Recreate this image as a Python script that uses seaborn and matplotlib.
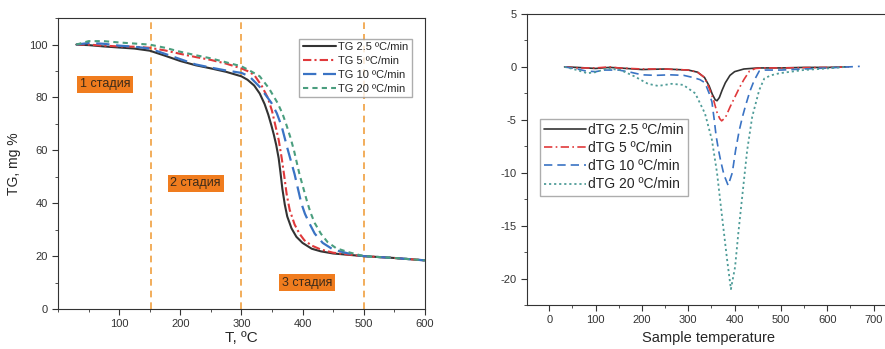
import seaborn as sns
import matplotlib.pyplot as plt
from matplotlib.ticker import MultipleLocator

# --- TG curves (left panel) ---
tg25_x = [30, 50, 75, 100, 125, 150, 175, 200, 225, 250, 275, 300, 310, 321, 330, 338, 344, 349, 353, 357,
          361, 364, 367, 371, 375, 382, 390, 400, 415, 430, 450, 475, 500, 550, 600]
tg25_y = [100, 99.8, 99.3, 98.9, 98.5, 97.7, 95.8, 93.8, 92.2, 91, 89.7, 88, 86.7, 84.5, 81.5, 77.5, 73.5,
          69.5, 66, 62, 57, 51.5, 45.5, 39.5, 35, 30.5, 27.3, 25, 22.8, 21.8, 21, 20.5, 20, 19.3, 18.4]

tg5_x = [30, 50, 75, 100, 125, 150, 175, 200, 225, 250, 275, 300, 310, 321, 333, 343, 350, 356, 361, 366,
         370, 374, 379, 387, 395, 403, 415, 430, 450, 475, 500, 550, 600]
tg5_y = [100, 100, 99.6, 99.3, 99.2, 98.8, 97.8, 96.5, 95.3, 94.2, 92.8, 91, 90, 88.5, 84.5, 80, 75, 69, 64,
         57, 50.5, 43.5, 37.5, 32, 28.5, 26, 24, 22.5, 21.3, 20.6, 20, 19.3, 18.4]

tg10_x = [30, 50, 75, 100, 125, 150, 175, 200, 225, 250, 275, 300, 313, 330, 349, 358, 366, 375, 381, 387,
          393, 398, 404, 411, 420, 433, 450, 475, 500, 550, 600]
tg10_y = [100, 100.6, 100.3, 99.6, 99.2, 98.5, 96.5, 94.5, 92.5, 91.3, 90.2, 89.3, 88, 84, 78, 74, 69, 61,
          56, 51, 45, 40, 36, 32.5, 28.5, 25, 22.5, 21, 20, 19.3, 18.4]

tg20_x = [30, 50, 75, 100, 125, 150, 175, 200, 225, 250, 275, 300, 315, 330, 345, 359, 367, 374, 380, 386,
          391, 395, 401, 407, 413, 420, 430, 441, 455, 475, 500, 550, 600]
tg20_y = [100, 101.3, 101.3, 100.8, 100.4, 100, 98.8, 97.3, 96, 94.8, 93.3, 91.8, 90, 88, 83.5, 78, 74,
          69.4, 65, 60, 55, 51, 46, 41, 36.5, 32.5, 28.5, 25.3, 23, 21.5, 20, 19.3, 18.4]

stage_lines = [152, 300, 500]
stage_labels = ["1 стадия", "2 стадия", "3 стадия"]
stage_pos = [(77, 85), (225, 47.5), (408, 10)]

# --- dTG curves (right panel) ---
d25_x = [33, 60, 100, 130, 150, 200, 250, 300, 320, 335, 345, 352, 358, 362, 367, 373, 380, 390, 400, 420,
         450, 500, 550, 600, 640]
d25_y = [0, -0.05, -0.15, -0.05, -0.1, -0.25, -0.2, -0.3, -0.5, -1.0, -1.8, -2.6, -3.1, -3.2, -2.9, -2.2,
         -1.5, -0.8, -0.45, -0.2, -0.1, -0.1, -0.05, -0.05, 0]

d5_x = [33, 60, 100, 130, 150, 200, 250, 300, 320, 335, 345, 355, 362, 368, 372, 380, 390, 400, 410, 420,
        432, 445, 460, 500, 600, 650]
d5_y = [0, -0.1, -0.1, 0, -0.1, -0.2, -0.2, -0.3, -0.5, -1.0, -2.0, -3.2, -4.3, -4.9, -5.1, -4.8, -3.8,
        -2.9, -2.0, -1.2, -0.4, -0.15, -0.1, -0.1, -0.05, 0]

d10_x = [33, 60, 80, 100, 120, 150, 175, 200, 230, 260, 290, 310, 325, 336, 345, 351, 356, 360, 365, 370,
         377, 386, 395, 402, 410, 417, 424, 433, 442, 453, 465, 500, 550, 600, 670]
d10_y = [0, -0.2, -0.4, -0.45, -0.3, -0.3, -0.5, -0.75, -0.8, -0.75, -0.8, -1.0, -1.2, -1.5, -2.5, -3.3,
         -5.0, -6.5, -7.8, -8.9, -10.2, -11.2, -10.0, -7.9, -6.0, -4.7, -3.6, -2.3, -1.3, -0.4, -0.3, -0.3,
         -0.2, -0.1, 0.05]

d20_x = [33, 60, 82, 100, 125, 154, 184, 213, 235, 264, 289, 315, 336, 351, 362, 373, 384, 392, 401, 408,
         417, 427, 438, 453, 464, 478, 497, 548, 599, 640]
d20_y = [0, -0.3, -0.6, -0.5, -0.15, -0.3, -0.9, -1.6, -1.8, -1.6, -1.7, -2.5, -4.4, -6.9, -10.0, -14.2,
         -18.3, -21.0, -18.9, -15.7, -12.0, -7.9, -4.7, -2.2, -1.1, -0.8, -0.6, -0.3, -0.15, 0]

sns.set_style("ticks")
plt.rcParams['font.family'] = ['Liberation Sans', 'DejaVu Sans']
plt.rcParams['axes.edgecolor'] = '#333333'
plt.rcParams['xtick.color'] = '#333333'
plt.rcParams['ytick.color'] = '#333333'
plt.rcParams['axes.unicode_minus'] = False

fig = plt.figure(figsize=(8.85, 3.49), dpi=100)
ax1 = fig.add_axes([0.0655, 0.1146, 0.4145, 0.8334])
ax2 = fig.add_axes([0.5955, 0.126, 0.41, 0.834])

# left panel
sns.lineplot(x=tg25_x, y=tg25_y, ax=ax1, color="#333333", lw=1.5, label="TG 2.5 ºC/min")
sns.lineplot(x=tg5_x, y=tg5_y, ax=ax1, color="#e0393b", lw=1.5, dashes=(4, 1.5, 1, 1.5),
             label="TG 5 ºC/min")
sns.lineplot(x=tg10_x, y=tg10_y, ax=ax1, color="#3a73c4", lw=1.6, dashes=(6, 3), label="TG 10 ºC/min")
sns.lineplot(x=tg20_x, y=tg20_y, ax=ax1, color="#4a9e7e", lw=1.5, dashes=(2.5, 2), label="TG 20 ºC/min")

for xv in stage_lines:
    ax1.axvline(xv, color="#f0a040", lw=1.2, ls=(0, (4, 3)), zorder=0)
for lab, (xv, yv) in zip(stage_labels, stage_pos):
    ax1.text(xv, yv, lab, ha="center", va="center", fontsize=9, color="#3a2a1a",
             bbox=dict(facecolor="#f07c1e", edgecolor="none", pad=2))

ax1.set_xlim(0, 600)
ax1.set_ylim(0, 110)
ax1.xaxis.set_major_locator(MultipleLocator(100))
ax1.xaxis.set_minor_locator(MultipleLocator(50))
ax1.yaxis.set_major_locator(MultipleLocator(20))
ax1.yaxis.set_minor_locator(MultipleLocator(10))
ax1.set_xticks([100, 200, 300, 400, 500, 600])
ax1.tick_params(which="major", length=4, labelsize=8)
ax1.tick_params(which="minor", length=2.5)
ax1.set_xlabel("T, ºC", fontsize=11, labelpad=1)
ax1.set_ylabel("TG, mg %", fontsize=10, labelpad=6)
ax1.legend(loc="upper right", bbox_to_anchor=(0.965, 0.93), fontsize=8, frameon=True, fancybox=False,
           edgecolor="#999999", handlelength=3.0, handletextpad=0.2, labelspacing=0.35,
           borderpad=0.3, borderaxespad=0)

# right panel
sns.lineplot(x=d25_x, y=d25_y, ax=ax2, color="#333333", lw=1.2, label="dTG 2.5 ºC/min")
sns.lineplot(x=d5_x, y=d5_y, ax=ax2, color="#e0393b", lw=1.2, dashes=(5, 2, 1, 2), label="dTG 5 ºC/min")
sns.lineplot(x=d10_x, y=d10_y, ax=ax2, color="#3a73c4", lw=1.2, dashes=(5, 3), label="dTG 10 ºC/min")
sns.lineplot(x=d20_x, y=d20_y, ax=ax2, color="#4f9c98", lw=1.3, dashes=(1.2, 1.6), label="dTG 20 ºC/min")

ax2.set_xlim(-48, 735)
ax2.set_ylim(-22.5, 5)
ax2.xaxis.set_major_locator(MultipleLocator(100))
ax2.xaxis.set_minor_locator(MultipleLocator(50))
ax2.yaxis.set_major_locator(MultipleLocator(5))
ax2.yaxis.set_minor_locator(MultipleLocator(2.5))
ax2.tick_params(which="major", length=4, labelsize=8)
ax2.tick_params(which="minor", length=2.5)
ax2.set_xlabel("Sample temperature", fontsize=10.5, labelpad=4)
ax2.set_ylabel("")
ax2.legend(loc="upper left", bbox_to_anchor=(0.035, 0.64), fontsize=10, frameon=True, fancybox=False,
           edgecolor="#999999", handlelength=3.0, handletextpad=0.2, labelspacing=0.3,
           borderpad=0.3, borderaxespad=0)

fig.savefig("out.png", dpi=100)
